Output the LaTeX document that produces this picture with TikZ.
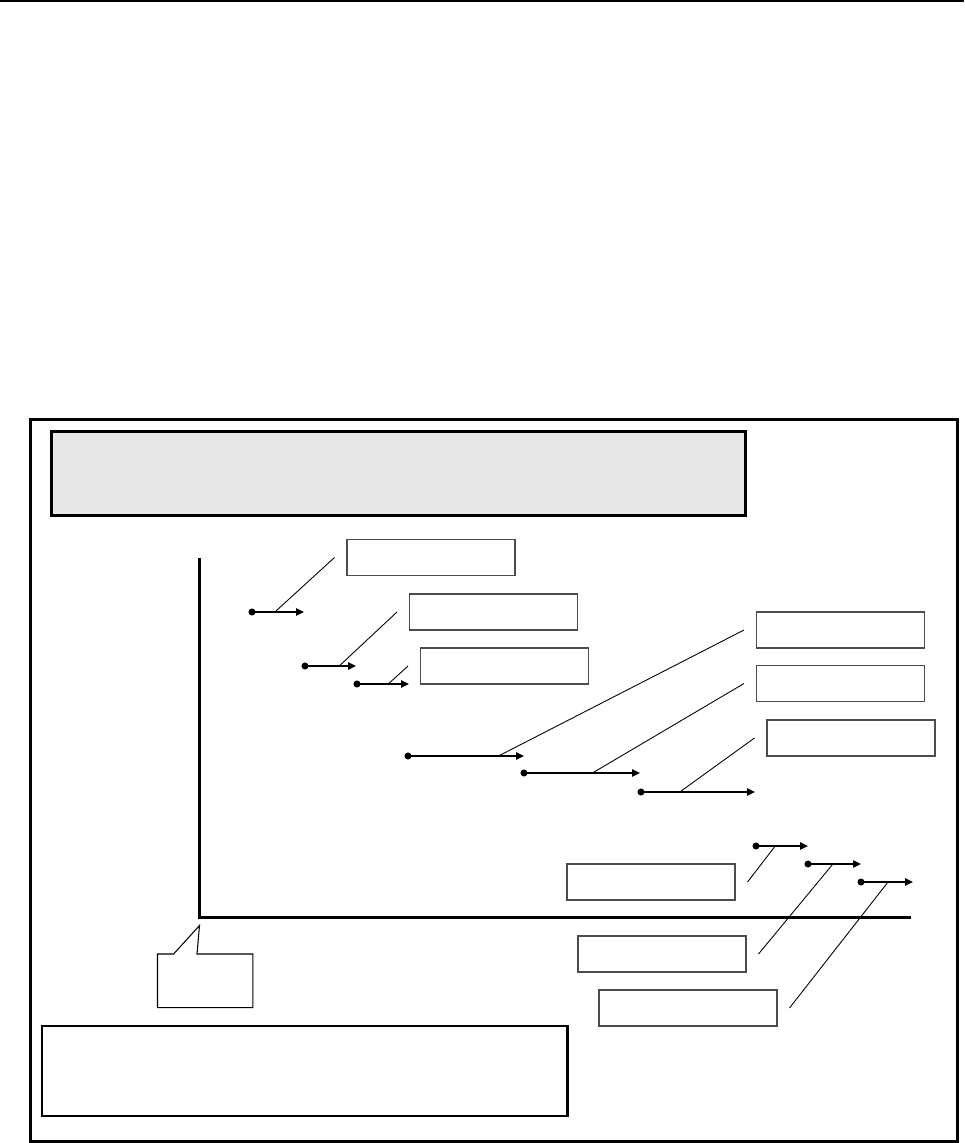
\documentclass[tikz,border=0pt]{standalone}
\usetikzlibrary{arrows.meta}
\definecolor{panelgray}{HTML}{E8E8E8}
\tikzset{
  tagbox/.style={draw=black!70, line width=0.6pt, inner sep=0pt,
    minimum width=3.36cm, minimum height=0.72cm},
  vec/.style={line width=1.3pt, -{Triangle[length=4.5pt,width=4pt]}},
  leader/.style={line width=0.5pt},
}
\begin{document}
\begin{tikzpicture}[x=0.02cm, y=-0.02cm]
  \useasboundingbox (0,0) rectangle (964,1143);
  \draw[line width=1.1pt] (0,1) -- (964,1);
  \draw[line width=1.7pt] (30.5,419.5) rectangle (957.5,1141.5);
  \node[draw, line width=1.4pt, fill=panelgray, minimum width=13.88cm,
    minimum height=1.676cm] (title) at (398.5,473.6) {};
  \node[draw, line width=1.3pt, minimum width=10.51cm,
    minimum height=1.8cm] (note) at (304.7,1071) {};
  % axes
  \coordinate (o) at (199.5,917.5);
  \coordinate (ytop) at (199.5,557.7);
  \coordinate (xend) at (910.7,917.5);
  \draw[line width=1.4pt] (ytop) -- (o) -- (xend);
  % boxes
  \node[tagbox] (b1) at (431,557.5) {};
  \node[tagbox] (b2) at (493.5,612) {};
  \node[tagbox] (b3) at (504.5,666) {};
  \node[tagbox] (b4) at (840.5,630) {};
  \node[tagbox] (b5) at (840.5,683.5) {};
  \node[tagbox] (b6) at (851,738) {};
  \node[tagbox] (b7) at (651,882) {};
  \node[tagbox] (b8) at (662,954) {};
  \node[tagbox, minimum width=3.56cm] (b9) at (688,1008) {};
  % vectors
  \coordinate (s1) at (252,612);  \coordinate (e1) at (304,612);
  \coordinate (s2) at (305,666);  \coordinate (e2) at (356,666);
  \coordinate (s3) at (357,684);  \coordinate (e3) at (409,684);
  \coordinate (s4) at (408,756);  \coordinate (e4) at (524,756);
  \coordinate (s5) at (524,773);  \coordinate (e5) at (640,773);
  \coordinate (s6) at (641,792);  \coordinate (e6) at (755,792);
  \coordinate (s7) at (756,846);  \coordinate (e7) at (808,846);
  \coordinate (s8) at (808,864);  \coordinate (e8) at (861,864);
  \coordinate (s9) at (861,882);  \coordinate (e9) at (913,882);
  \draw[vec] (s1) -- (e1) coordinate[pos=0.44] (m1);
  \draw[vec] (s2) -- (e2) coordinate[pos=0.67] (m2);
  \draw[vec] (s3) -- (e3) coordinate[pos=0.6] (m3);
  \draw[vec] (s4) -- (e4) coordinate[pos=0.78] (m4);
  \draw[vec] (s5) -- (e5) coordinate[pos=0.59] (m5);
  \draw[vec] (s6) -- (e6) coordinate[pos=0.34] (m6);
  \draw[vec] (s7) -- (e7) coordinate[pos=0.37] (m7);
  \draw[vec] (s8) -- (e8) coordinate[pos=0.47] (m8);
  \draw[vec] (s9) -- (e9) coordinate[pos=0.52] (m9);
  \fill (s1) circle (2pt);
  \fill (s2) circle (2pt);
  \fill (s3) circle (2pt);
  \fill (s4) circle (2pt);
  \fill (s5) circle (2pt);
  \fill (s6) circle (2pt);
  \fill (s7) circle (2pt);
  \fill (s8) circle (2pt);
  \fill (s9) circle (2pt);
  % leaders
  \draw[leader] (m1) -- ([xshift=-0.24cm]b1.west);
  \draw[leader] (m2) -- ([xshift=-0.24cm]b2.west);
  \draw[leader] (m3) -- ([xshift=-0.24cm]b3.west);
  \draw[leader] (m4) -- ([xshift=-0.24cm]b4.west);
  \draw[leader] (m5) -- ([xshift=-0.24cm]b5.west);
  \draw[leader] (m6) -- ([xshift=-0.24cm]b6.west);
  \draw[leader] (m7) -- ([xshift=0.24cm]b7.east);
  \draw[leader] (m8) -- ([xshift=0.24cm]b8.east);
  \draw[leader] (m9) -- ([xshift=0.24cm]b9.east);
  % callout at origin
  \draw[line width=0.6pt] (157.5,954) -- (173.6,954) -- ([yshift=-0.16cm]o)
    -- (197,954) -- (252.9,954) -- (252.9,1007.7) -- (157.5,1007.7) -- cycle;
\end{tikzpicture}
\end{document}
